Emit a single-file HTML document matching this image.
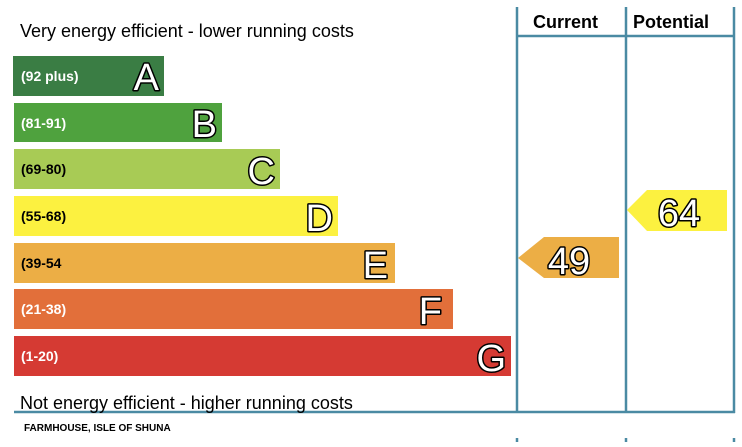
<!DOCTYPE html><html><head><style>body{margin:0;background:#fff}</style></head><body>
<svg width="742" height="442" xmlns="http://www.w3.org/2000/svg" font-family="Liberation Sans, sans-serif">
<rect width="742" height="442" fill="#fff"/>
<g stroke="#4a8aa3" stroke-width="2.5" fill="none">
<line x1="517" y1="7" x2="517" y2="413"/><line x1="626" y1="7" x2="626" y2="413"/><line x1="734" y1="7" x2="734" y2="413"/>
<line x1="517" y1="36" x2="735" y2="36"/><line x1="14" y1="412" x2="735" y2="412"/>
<line x1="517" y1="438" x2="517" y2="442"/><line x1="626" y1="438" x2="626" y2="442"/><line x1="734" y1="438" x2="734" y2="442"/>
</g>
<text x="533" y="28" font-size="18" font-weight="bold">Current</text>
<text x="633" y="28" font-size="18" font-weight="bold">Potential</text>
<text x="20" y="37" font-size="18">Very energy efficient - lower running costs</text>
<text x="20" y="409" font-size="18">Not energy efficient - higher running costs</text>
<text x="24" y="431" font-size="10" font-weight="bold">FARMHOUSE,  ISLE OF SHUNA</text>
<g font-weight="bold" font-size="14">
<rect x="13" y="56" width="151" height="40" fill="#3a7d44"/><text x="21" y="81" fill="#fff">(92 plus)</text>
<rect x="14" y="103" width="208" height="39" fill="#4fa23e"/><text x="21" y="128" fill="#fff">(81-91)</text>
<rect x="14" y="149" width="266" height="40" fill="#a8cb55"/><text x="21" y="174">(69-80)</text>
<rect x="14" y="196" width="324" height="40" fill="#fcf140"/><text x="21" y="221">(55-68)</text>
<rect x="14" y="243" width="381" height="40" fill="#ecae45"/><text x="21" y="268">(39-54</text>
<rect x="14" y="289" width="439" height="40" fill="#e26f3a"/><text x="21" y="314" fill="#fff">(21-38)</text>
<rect x="14" y="336" width="497" height="40" fill="#d53a33"/><text x="21" y="361" fill="#fff">(1-20)</text>
</g>
<g font-size="38" fill="#fff" stroke="#000" stroke-width="3" paint-order="stroke" stroke-linejoin="round" text-anchor="end">
<text x="159" y="90">A</text><text x="217" y="137">B</text><text x="275" y="184">C</text><text x="333" y="231">D</text><text x="388" y="278">E</text><text x="442" y="324">F</text><text x="506" y="371">G</text>
</g>
<polygon points="518,258 544,237 619,237 619,278 544,278" fill="#ecae45"/>
<polygon points="627,210 647,190 727,190 727,231 647,231" fill="#fcf140"/>
<g font-size="38" fill="#fff" stroke="#000" stroke-width="3" paint-order="stroke" stroke-linejoin="round" text-anchor="middle">
<text x="569" y="274">49</text><text x="679" y="226">64</text>
</g>
</svg>
</body></html>
